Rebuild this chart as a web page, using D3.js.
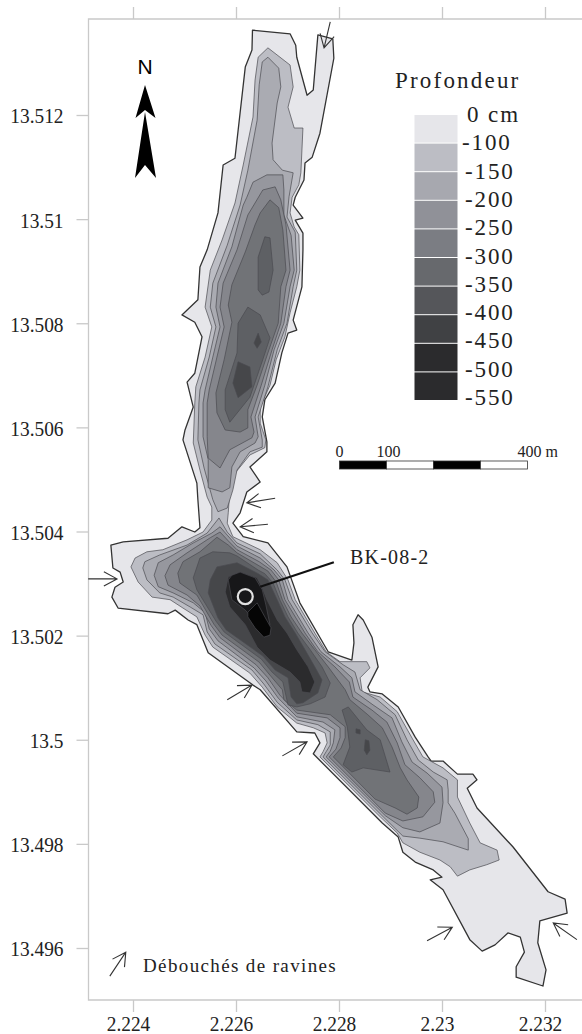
<!DOCTYPE html>
<html>
<head>
<meta charset="utf-8">
<style>
    html, body { margin: 0; padding: 0; background: #fff; }
    svg { display: block; }
    text { font-family: "Liberation Serif", serif; fill: #222; }
</style>
</head>
<body>
<div id="chart"></div>
<script src="https://cdnjs.cloudflare.com/ajax/libs/d3/7.9.0/d3.min.js"></script>
<script>
// Axis ticks
const lonTicks = [2.224, 2.226, 2.228, 2.23, 2.232];
const latTicks = [13.512, 13.51, 13.508, 13.506, 13.504, 13.502, 13.5, 13.498, 13.496];

// Legend
const legendLabels = ['0 cm', '-100', '-150', '-200', '-250', '-300', '-350', '-400', '-450', '-500', '-550'];
const legendColors = ['#e6e6ea', '#bcbdc4', '#a7a8af', '#909198', '#7b7d83', '#67696d', '#55565a', '#404144', '#2b2b2d', '#2b2b2d'];

// Scale bar, metres
const barStops = [0, 100, 200, 300, 400];

// Digitised isobaths. Pairs are lon, lat in 1e-4 degrees, counted from 2.2 E and 13.49 N
const shoreline = [[263.2,236.3],[270.5,235.6],[271.6,233.4],[271.8,231.1],[273.8,223.8],[275.0,224.8],[275.9,235.4],[278.8,234.6],[279.0,230.9],[276.3,216.5],[274.8,211.9],[273.4,210.8],[273.2,207.5],[271.5,204.2],[271.1,202.7],[273.0,200.2],[271.5,199.8],[273.0,197.3],[273.0,194.1],[272.8,187.0],[271.1,180.6],[271.8,178.7],[270.1,178.1],[268.9,174.3],[267.6,168.5],[265.6,165.3],[265.1,162.0],[266.0,157.2],[266.0,155.3],[262.7,152.4],[264.7,149.5],[262.1,147.6],[260.8,143.6],[259.4,141.6],[261.4,139.0],[266.2,137.8],[269.9,133.2],[272.4,126.3],[277.9,116.9],[282.5,115.3],[282.9,118.6],[282.7,122.1],[283.7,124.0],[284.7,123.0],[286.4,119.7],[287.6,114.0],[285.6,110.1],[286.0,109.2],[288.4,108.8],[291.5,106.3],[294.8,100.5],[297.3,96.7],[297.9,95.9],[300.2,95.9],[303.0,93.4],[306.0,93.4],[306.8,92.3],[304.9,90.7],[306.8,86.9],[313.8,79.4],[320.6,70.8],[323.9,69.4],[324.3,66.7],[319.0,65.2],[318.6,61.0],[320.2,55.8],[319.6,52.7],[314.4,54.4],[314.4,56.4],[316.0,59.2],[315.2,62.1],[312.8,62.9],[310.3,60.6],[307.8,59.4],[305.4,61.6],[300.2,71.2],[297.7,73.1],[300.0,73.6],[298.3,75.0],[294.8,76.5],[292.4,78.4],[291.5,81.3],[288.4,84.0],[275.0,97.3],[276.3,99.4],[275.3,101.3],[271.8,101.5],[264.7,109.6],[263.3,110.5],[254.6,116.7],[252.4,122.1],[250.7,123.0],[248.2,124.9],[246.8,124.2],[237.1,125.3],[235.9,127.4],[236.5,129.3],[238.1,130.3],[237.5,132.2],[236.1,133.0],[235.7,137.4],[238.1,138.0],[246.8,138.7],[249.5,140.9],[252.0,139.9],[253.0,140.7],[252.6,146.1],[252.4,149.3],[249.7,157.6],[250.1,159.5],[251.7,163.9],[250.5,168.7],[252.0,170.4],[253.4,177.4],[252.0,180.2],[249.5,181.6],[252.6,184.5],[253.0,190.8],[254.4,194.1],[256.5,201.2],[257.5,210.4],[259.8,211.7],[261.8,229.2],[263.1,232.5]];

const iso100 = [[266.2,232.9],[270.5,229.6],[271.1,225.4],[270.1,221.5],[271.3,217.5],[273.0,217.5],[272.6,208.9],[272.2,206.6],[270.9,204.2],[270.5,201.2],[271.3,198.5],[272.2,197.0],[272.4,190.2],[271.8,187.0],[270.5,182.0],[269.5,177.4],[267.8,173.0],[266.6,168.1],[264.7,163.9],[264.7,160.8],[265.8,157.6],[265.6,156.1],[262.7,154.7],[259.8,151.2],[258.8,148.0],[258.5,143.6],[258.3,141.6],[259.4,139.0],[264.7,136.5],[268.0,134.0],[270.1,130.7],[271.5,126.9],[275.3,120.5],[277.5,116.9],[280.2,115.0],[285.4,115.0],[286.0,113.8],[284.1,111.9],[284.5,109.2],[288.0,108.2],[291.3,105.4],[294.2,100.3],[296.3,96.7],[300.2,94.6],[303.0,92.3],[303.0,89.0],[305.4,84.0],[307.4,80.2],[310.7,78.8],[311.1,76.9],[308.7,76.0],[305.4,75.0],[303.0,73.8],[301.6,75.6],[299.6,76.9],[295.7,78.4],[292.4,80.2],[291.3,82.1],[288.0,85.2],[276.3,96.7],[276.9,97.7],[277.7,99.4],[277.3,101.3],[275.0,102.3],[271.8,103.2],[268.0,106.3],[265.1,110.1],[262.7,112.8],[255.5,117.8],[254.0,120.1],[252.4,123.6],[249.7,125.3],[247.2,126.9],[243.7,127.4],[241.0,130.3],[239.6,133.2],[240.4,134.9],[242.7,136.1],[245.8,136.5],[250.5,138.4],[253.6,139.9],[255.3,142.2],[255.3,144.7],[254.4,146.6],[253.0,151.8],[251.7,157.0],[252.0,164.7],[252.2,167.8],[254.0,173.5],[255.3,179.3],[254.0,183.1],[255.0,190.2],[257.3,196.0],[259.8,203.1],[261.4,210.4],[263.3,219.6],[263.7,226.7],[264.3,231.1]];

const iso150North = [[266.2,231.1],[268.3,229.0],[268.7,225.4],[268.0,222.3],[267.0,214.6],[267.2,211.4],[269.0,209.4],[271.1,208.9],[270.3,204.3],[269.9,200.4],[271.5,197.5],[271.8,190.2],[271.1,187.0],[269.9,180.0],[268.0,174.9],[266.2,167.8],[264.3,162.0],[265.1,157.6],[265.1,156.2],[262.7,155.3],[260.2,151.8],[259.4,148.0],[258.3,144.5],[256.5,143.8],[255.5,146.1],[253.8,152.2],[252.6,157.6],[252.8,164.7],[253.0,167.2],[254.8,173.5],[256.1,179.3],[255.0,183.1],[255.5,187.7],[258.3,195.0],[260.8,202.7],[262.3,209.4],[264.1,219.0],[264.5,225.8],[265.1,230.2]];
const iso150South = [[241.9,133.0],[242.3,134.2],[245.2,135.5],[250.5,137.4],[254.4,139.7],[256.7,142.6],[258.3,139.9],[260.2,137.8],[264.7,135.7],[268.0,132.6],[269.5,130.7],[270.9,126.9],[274.8,120.5],[277.3,116.9],[280.8,114.4],[283.1,113.0],[284.1,109.6],[287.4,107.7],[290.9,104.8],[293.2,100.0],[295.4,96.1],[298.3,93.8],[301.0,92.3],[301.2,90.4],[301.2,87.9],[302.5,85.9],[305.1,81.0],[305.1,78.8],[300.2,80.4],[295.7,81.1],[292.4,81.5],[289.0,84.8],[276.9,96.7],[277.5,97.7],[278.3,99.0],[278.3,101.5],[275.9,102.9],[271.8,103.8],[268.0,107.2],[265.4,110.7],[263.1,113.4],[255.9,118.4],[254.4,120.7],[253.6,124.0],[251.1,125.5],[247.8,127.4],[245.2,128.2],[242.7,130.7]];

const iso200North = [[263.3,207.1],[266.0,208.5],[269.1,208.5],[269.3,205.6],[269.3,200.8],[270.7,196.9],[271.3,190.2],[270.5,187.0],[269.3,180.0],[267.4,174.9],[265.6,168.1],[263.7,162.0],[264.3,158.2],[263.7,157.0],[260.8,155.3],[259.2,152.4],[258.8,148.4],[257.3,147.6],[254.6,148.4],[254.6,153.8],[253.6,158.2],[253.6,164.7],[254.0,167.2],[255.5,173.5],[256.9,179.3],[256.1,183.1],[256.5,187.7],[259.2,194.7],[261.4,202.7],[262.1,204.2]];
const iso200South = [[244.1,131.6],[244.9,134.0],[247.8,135.5],[251.7,137.8],[255.3,139.7],[256.9,140.9],[258.3,139.3],[260.2,137.2],[264.7,134.9],[267.4,132.6],[269.0,130.7],[270.1,126.9],[274.0,120.5],[276.5,116.9],[280.2,114.0],[282.5,111.9],[283.1,109.2],[286.6,106.7],[290.3,104.2],[292.2,99.6],[294.2,95.7],[297.1,93.6],[300.0,90.9],[300.2,87.9],[299.6,84.0],[295.7,82.3],[292.4,83.1],[289.0,85.4],[277.5,96.7],[278.3,97.8],[278.9,99.4],[279.2,101.9],[276.9,103.4],[271.8,104.4],[268.2,108.0],[265.8,111.3],[263.5,113.8],[256.5,119.0],[254.8,121.3],[254.0,124.4],[251.7,126.3],[247.8,128.2],[244.9,129.4]];

const iso250North = [[263.7,203.1],[265.2,205.6],[267.6,206.2],[268.7,203.7],[269.7,198.9],[270.5,190.2],[269.7,187.0],[268.7,180.0],[267.0,174.9],[264.9,168.1],[262.9,162.0],[263.5,159.1],[263.1,158.0],[258.8,155.7],[256.9,152.2],[254.6,154.1],[254.4,158.2],[254.4,164.7],[254.8,167.2],[256.3,173.5],[257.7,179.3],[256.9,183.1],[257.5,187.7],[260.2,194.1],[262.3,200.8]];
const iso250South = [[246.2,131.5],[247.2,133.6],[250.5,135.9],[255.0,138.8],[256.9,139.9],[258.5,138.2],[260.2,136.5],[264.5,134.2],[266.8,132.6],[268.3,130.7],[269.5,126.9],[273.4,120.5],[275.9,116.9],[279.2,114.0],[282.0,111.1],[282.7,108.2],[286.4,105.7],[289.3,103.4],[291.3,99.4],[292.8,95.2],[295.7,92.7],[298.3,90.0],[298.6,88.0],[296.3,85.2],[292.4,84.4],[289.0,85.9],[278.1,96.7],[279.4,98.2],[280.2,100.4],[280.2,102.3],[277.7,104.2],[271.8,105.1],[268.5,108.6],[266.2,111.9],[263.9,114.4],[256.9,119.6],[255.2,121.9],[253.0,125.7],[250.5,127.8],[246.8,129.7]];

const iso300North = [[264.7,201.2],[266.6,203.7],[268.3,202.2],[269.1,197.9],[269.7,190.2],[268.7,187.0],[268.2,180.0],[266.4,174.9],[264.1,168.1],[262.3,163.4],[262.3,159.9],[260.8,159.1],[257.9,159.5],[256.3,162.8],[256.1,166.6],[257.7,173.0],[259.2,180.2],[258.5,183.5],[259.2,187.4],[261.8,193.7],[263.7,198.9]];
const iso300South = [[248.7,132.0],[249.7,134.2],[253.0,136.1],[256.3,138.9],[258.5,137.4],[260.2,135.9],[264.5,133.4],[266.2,132.4],[267.8,130.3],[269.0,126.9],[270.7,123.6],[272.8,120.5],[275.3,117.3],[277.9,114.0],[281.2,109.6],[282.1,107.7],[285.6,104.8],[288.4,102.3],[290.3,98.6],[291.9,94.6],[293.2,92.3],[295.5,89.0],[295.2,86.9],[293.2,85.7],[290.9,86.9],[287.0,88.6],[278.9,96.7],[280.4,98.4],[281.2,100.4],[281.2,102.5],[278.3,104.8],[271.8,105.7],[269.3,107.7],[269.0,109.6],[266.6,112.4],[264.5,114.9],[257.3,120.1],[255.7,122.2],[252.4,127.8],[249.1,130.1]];

const iso350Top = [[265.6,196.6],[266.6,196.4],[267.2,190.2],[266.4,186.0],[265.1,185.4],[264.3,186.4],[264.3,192.7]];
const iso350Mid = [[262.3,183.1],[264.7,181.6],[266.6,177.2],[265.2,173.0],[262.7,165.8],[258.8,161.0],[257.9,163.4],[257.9,167.2],[260.2,174.3],[260.4,180.0]];
const iso350South = [[251.7,131.1],[253.0,134.9],[255.5,136.1],[258.8,135.9],[260.2,135.3],[264.3,132.6],[265.6,131.9],[267.2,130.1],[268.5,126.9],[270.1,123.6],[272.0,120.5],[274.4,117.3],[276.7,114.0],[278.3,110.9],[277.3,108.2],[274.4,106.9],[271.8,106.3],[270.1,106.7],[269.1,111.1],[267.0,113.0],[264.9,115.5],[257.7,120.7],[256.1,122.8],[252.4,128.8]];
const iso350East = [[280.6,105.7],[281.8,106.3],[285.4,101.9],[288.0,100.0],[289.9,93.8],[284.7,94.6],[282.5,93.8],[280.8,95.2],[282.1,98.6],[281.6,102.5]];

const iso400NorthA = [[260.4,172.6],[262.7,171.6],[263.1,167.8],[260.4,165.7],[259.4,168.5]];
const iso400NorthB = [[264.3,178.1],[264.9,176.4],[264.1,175.2],[263.5,176.2]];
const iso400South = [[255.0,130.7],[256.3,133.2],[260.2,134.0],[264.3,131.9],[266.2,130.7],[268.0,126.9],[269.5,123.6],[271.5,120.5],[273.4,117.3],[275.3,114.0],[276.7,111.5],[275.9,109.0],[273.0,107.1],[271.8,106.9],[270.7,108.2],[270.1,111.9],[267.6,113.4],[265.2,116.1],[258.1,121.1],[256.5,123.4],[254.6,128.2]];
const iso400EastA = [[283.3,102.1],[284.1,101.9],[284.1,101.1],[283.3,101.3]];
const iso400EastB = [[285.1,100.0],[285.8,99.8],[286.0,98.0],[285.4,97.1],[284.9,98.0]];

const iso450 = [[258.5,131.3],[260.8,132.2],[264.1,131.1],[265.1,129.2],[266.0,126.9],[268.0,123.0],[269.9,120.5],[271.8,117.3],[274.0,114.0],[275.3,111.1],[274.4,109.0],[272.8,109.2],[272.4,111.1],[270.5,113.0],[266.6,115.3],[264.1,117.8],[261.8,122.1],[258.8,125.5],[257.9,128.4]];
const iso500 = [[258.5,130.7],[259.2,131.6],[260.8,132.2],[263.7,131.1],[265.1,128.8],[265.8,125.9],[266.6,122.1],[264.3,122.1],[261.8,124.9],[259.2,126.9]];
const iso550 = [[262.3,124.5],[264.1,126.3],[265.6,123.6],[266.8,121.5],[266.6,120.1],[265.4,119.7],[263.7,121.5],[262.3,123.6]];

// Ravine mouths: from, to
const ravines = [
    [[278.3,237.9],[277.1,232.9]],
    [[267.6,146.4],[262.1,145.5]],
    [[266.2,141.4],[260.8,140.9]],
    [[231.3,130.9],[236.9,130.9]],
    [[258.3,107.7],[263.1,110.5]],
    [[269.0,96.9],[273.8,99.6]],
    [[297.1,61.4],[302.0,64.0]],
    [[326.2,61.6],[321.6,64.8]]
];
const ravineKey = [[235.5,54.6],[238.6,59.2]];

// Core site and the end of its leader
const coreSite = [261.8,127.5];
const coreLeaderFrom = [264.7,129.4];
const coreLeaderTo = [279.0,134.1];

// Fill colours of the map, deepest last
const mapLevels = [
    { rings: [shoreline], fill: '#e6e6ea' },
    { rings: [iso100], fill: '#bcbdc4' },
    { rings: [iso150North, iso150South], fill: '#aaabb2' },
    { rings: [iso200North, iso200South], fill: '#96979e' },
    { rings: [iso250North, iso250South], fill: '#85868c' },
    { rings: [iso300North, iso300South], fill: '#717377' },
    { rings: [iso350Top, iso350Mid, iso350South, iso350East], fill: '#5e6064' },
    { rings: [iso400NorthA, iso400NorthB, iso400South, iso400EastA, iso400EastB], fill: '#46474a' },
    { rings: [iso450], fill: '#2b2b2d' },
    { rings: [iso500], fill: '#171719' },
    { rings: [iso550], fill: '#050505' }
];

const width = 582;
const height = 1034;
const frame = { left: 88.5, top: 19, bottom: 1000 };

const x = d3.scaleLinear().domain([2.224, 2.232]).range([133, 545]);
const y = d3.scaleLinear().domain([13.496, 13.512]).range([948, 115]);

const px = d => [x(2.2 + d[0] * 1e-4), y(13.49 + d[1] * 1e-4)];
const ringPath = d3.line().curve(d3.curveLinearClosed);

const svg = d3.select('#chart').append('svg')
    .attr('width', width)
    .attr('height', height);

// Map
mapLevels.forEach((level, i) => {
    svg.append('g')
        .selectAll('path')
        .data(level.rings)
        .join('path')
        .attr('d', r => ringPath(r.map(px)))
        .attr('fill', level.fill)
        .attr('stroke', i === 0 ? '#333' : '#4b4b50')
        .attr('stroke-width', i === 0 ? 1.3 : 0.7)
        .attr('stroke-linejoin', 'round');
});

// Frame and ticks
const axisColor = '#c9c9c9';
const tickSquash = 0.88; // the tick labels are narrower than plain Times
const styleAxis = g => {
    g.select('.domain').remove();
    g.selectAll('line').attr('stroke', axisColor).attr('stroke-width', 1.3);
};

svg.append('g')
    .attr('transform', `translate(${frame.left},0)`)
    .call(d3.axisLeft(y).tickValues(latTicks).tickSize(12).tickFormat(d3.format('~r')))
    .call(styleAxis)
    .call(g => g.selectAll('text')
        .attr('x', -25 / tickSquash)
        .attr('dy', '0.36em')
        .attr('transform', `scale(${tickSquash},1)`)
        .attr('font-family', '"Liberation Serif", serif')
        .attr('font-size', 22)
        .attr('fill', '#222'));

svg.append('g')
    .attr('transform', `translate(0,${frame.bottom})`)
    .call(d3.axisBottom(x).tickValues(lonTicks).tickSize(12).tickFormat(d3.format('~r')))
    .call(styleAxis)
    .call(g => g.selectAll('text')
        .attr('x', -5 / tickSquash)
        .attr('y', 31)
        .attr('dy', 0)
        .attr('transform', `scale(${tickSquash},1)`)
        .attr('font-family', '"Liberation Serif", serif')
        .attr('font-size', 22)
        .attr('fill', '#222'));

svg.append('g')
    .attr('transform', `translate(0,${frame.top})`)
    .call(d3.axisTop(x).tickValues(lonTicks).tickSize(12).tickFormat(''))
    .call(styleAxis);

svg.append('path')
    .attr('d', `M${width},${frame.top}H${frame.left}V${frame.bottom}H${width}`)
    .attr('fill', 'none')
    .attr('stroke', axisColor)
    .attr('stroke-width', 1.3);

// Ravine arrows
function arrowPath(from, to) {
    const [x0, y0] = px(from);
    const [x1, y1] = px(to);
    const angle = Math.atan2(y0 - y1, x0 - x1);
    const barb = a => [x1 + 15 * Math.cos(angle + a), y1 + 15 * Math.sin(angle + a)];
    const [ax, ay] = barb(0.5);
    const [bx, by] = barb(-0.5);
    return `M${x0},${y0}L${x1},${y1}M${ax},${ay}L${x1},${y1}L${bx},${by}`;
}

svg.append('g')
    .selectAll('path')
    .data(ravines.concat([ravineKey]))
    .join('path')
    .attr('d', d => arrowPath(d[0], d[1]))
    .attr('fill', 'none')
    .attr('stroke', '#333')
    .attr('stroke-width', 1.1);

svg.append('text')
    .attr('x', 143)
    .attr('y', 972)
    .attr('font-size', 19)
    .attr('letter-spacing', 1.37)
    .text('Débouchés de ravines');

// Core site
svg.append('path')
    .attr('d', d3.line()([coreLeaderFrom, coreLeaderTo].map(px)))
    .attr('stroke', '#111')
    .attr('stroke-width', 2.2);

svg.append('circle')
    .attr('cx', px(coreSite)[0])
    .attr('cy', px(coreSite)[1])
    .attr('r', 7.5)
    .attr('fill', 'none')
    .attr('stroke', '#e2e2e2')
    .attr('stroke-width', 2.2);

svg.append('text')
    .attr('x', 350)
    .attr('y', 564)
    .attr('font-size', 20)
    .attr('letter-spacing', 1.2)
    .text('BK-08-2');

// North arrow
const north = svg.append('g').attr('fill', '#000');
north.append('path').attr('d', 'M145,85L135.5,118L145,110L155.5,118Z');
north.append('path').attr('d', 'M145,112L135,178L145,165L156,178Z');
north.append('text')
    .attr('x', 145)
    .attr('y', 74)
    .attr('text-anchor', 'middle')
    .attr('font-size', 21)
    .style('font-family', '"Liberation Sans", sans-serif')
    .style('fill', '#000')
    .text('N');

// Legend
const legendY = d3.scaleLinear().domain([0, legendColors.length]).range([115, 401]);
const legendTextY = d3.scaleLinear().domain([0, legendLabels.length - 1]).range([122, 405]);

svg.append('text')
    .attr('x', 395)
    .attr('y', 88)
    .attr('font-size', 23)
    .attr('letter-spacing', 2.2)
    .text('Profondeur');

svg.append('g')
    .selectAll('rect')
    .data(legendColors)
    .join('rect')
    .attr('x', 414.5)
    .attr('width', 43)
    .attr('y', (d, i) => legendY(i))
    .attr('height', (d, i) => legendY(i + 1) - legendY(i) - 1)
    .attr('fill', d => d);

svg.append('g')
    .selectAll('text')
    .data(legendLabels)
    .join('text')
    .attr('x', (d, i) => (i === 0 ? 467 : i === 1 ? 462 : 465))
    .attr('y', (d, i) => legendTextY(i))
    .attr('font-size', 23)
    .attr('letter-spacing', 1.9)
    .text(d => d);

// Scale bar
const bar = d3.scaleLinear().domain([0, 400]).range([339.5, 527.5]);

svg.append('g')
    .selectAll('rect')
    .data(d3.pairs(barStops))
    .join('rect')
    .attr('x', d => bar(d[0]))
    .attr('width', d => bar(d[1]) - bar(d[0]))
    .attr('y', 461)
    .attr('height', 8)
    .attr('fill', (d, i) => (i % 2 ? '#fff' : '#000'))
    .attr('stroke', '#333')
    .attr('stroke-width', 0.8);

svg.append('g')
    .selectAll('text')
    .data([[0, '0', 0, 'middle'], [100, '100', 2, 'middle'], [400, '400 m', -10, 'start']])
    .join('text')
    .attr('x', d => bar(d[0]) + d[2])
    .attr('y', 457)
    .attr('text-anchor', d => d[3])
    .attr('font-size', 16)
    .text(d => d[1]);
</script>
</body>
</html>
